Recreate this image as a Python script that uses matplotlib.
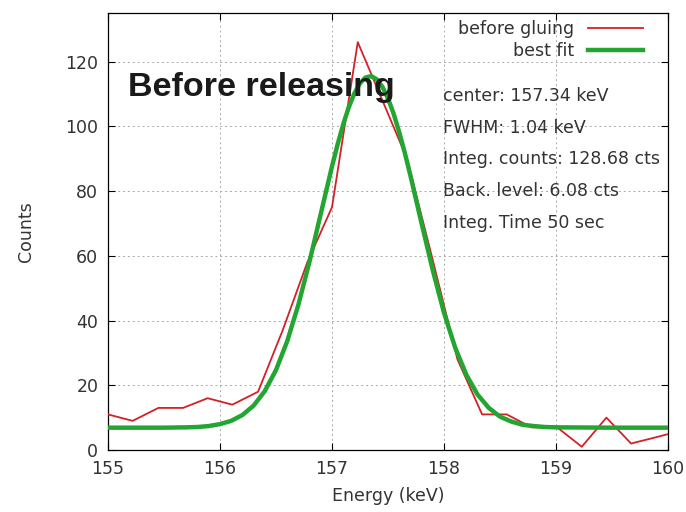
# Espectro de contagens antes de soltar (before releasing)
import matplotlib
matplotlib.use("Agg")
import matplotlib.pyplot as plt

# Dados medidos (before gluing)
energy = [155.00, 155.22, 155.45, 155.67, 155.89, 156.11, 156.34, 156.56,
          156.78, 157.00, 157.23, 157.45, 157.67, 157.89, 158.12, 158.34,
          158.56, 158.78, 159.01, 159.23, 159.45, 159.67, 159.90, 160.12]
counts = [11, 9, 13, 13, 16, 14, 18, 37, 58, 75, 126, 108, 90, 60, 28, 11,
          11, 7, 7, 1, 10, 2, 4, 6]

# Curva de ajuste (best fit)
fit_energy = [155.0, 155.5, 155.7, 155.8, 155.9, 156.0, 156.1, 156.2, 156.3,
              156.4, 156.5, 156.6, 156.7, 156.8, 156.9, 157.0, 157.05, 157.1,
              157.15, 157.2, 157.25, 157.3, 157.35, 157.4, 157.45, 157.5,
              157.55, 157.6, 157.65, 157.7, 157.8, 157.9, 158.0,
              158.1, 158.2, 158.3, 158.4, 158.5, 158.6, 158.7, 158.8, 158.9,
              159.0, 159.5, 160.0]
fit_counts = [6.9, 6.9, 7.0, 7.1, 7.4, 8.0, 9.0, 10.8, 13.7,
              18.2, 24.7, 33.6, 44.9, 58.3, 73.0, 87.6, 94.4, 100.6,
              105.9, 110.2, 113.3, 115.1, 115.5, 114.5, 112.2, 108.6,
              103.9, 98.2, 91.8, 84.8, 70.0, 55.5, 42.4,
              31.6, 23.2, 17.1, 13.0, 10.3, 8.8, 7.8, 7.4, 7.1,
              7.0, 6.9, 6.9]

fit_info = ["center: 157.34 keV", "FWHM: 1.04 keV", "Integ. counts: 128.68 cts",
            "Back. level: 6.08 cts", "Integ. Time 50 sec"]

text_color = "#333333"
fs = 12.5

fig = plt.figure(figsize=(6.86, 5.12), dpi=100)
ax = fig.add_axes([0.1574, 0.1211, 0.8164, 0.8535])

ax.plot(energy, counts, color="#d42027", lw=1.3, label="before gluing", zorder=3)
ax.plot(fit_energy, fit_counts, color="#22a531", lw=3.2, label="best fit", zorder=4)

ax.set_xlim(155, 160)
ax.set_ylim(0, 135)
ax.set_xticks([155, 156, 157, 158, 159, 160])
ax.set_yticks([0, 20, 40, 60, 80, 100, 120])

# Estilo gnuplot: ticks para dentro, espelhados, grade pontilhada
ax.tick_params(direction="in", top=True, right=True, length=5, width=0.8,
               labelsize=fs, labelcolor=text_color, pad=7)
ax.grid(True, color="#aaaaaa", linestyle=(0, (2, 3)), lw=0.7)
for s in ax.spines.values():
    s.set_linewidth(0.9)

ax.set_xlabel("Energy (keV)", fontsize=fs, color=text_color, labelpad=7)
ax.set_ylabel("Counts", fontsize=fs, color=text_color, labelpad=22)

# Título dentro do gráfico
ax.text(155.18, 112, "Before releasing", fontsize=24.5, fontweight="bold",
        family="Liberation Sans", color="#1a1a1a", va="center", zorder=5)

# Informações do ajuste
for i, line in enumerate(fit_info):
    ax.text(157.99, 109.4 - i * 9.8, line, fontsize=fs, color=text_color,
            va="center", ha="left", zorder=5)

leg = ax.legend(loc="upper right", bbox_to_anchor=(0.968, 1.0), frameon=False,
                markerfirst=False, fontsize=fs, handlelength=3.2,
                handletextpad=0.75, borderaxespad=0, labelspacing=0.25)
for t in leg.get_texts():
    t.set_color(text_color)

fig.savefig("out.png", dpi=100)
